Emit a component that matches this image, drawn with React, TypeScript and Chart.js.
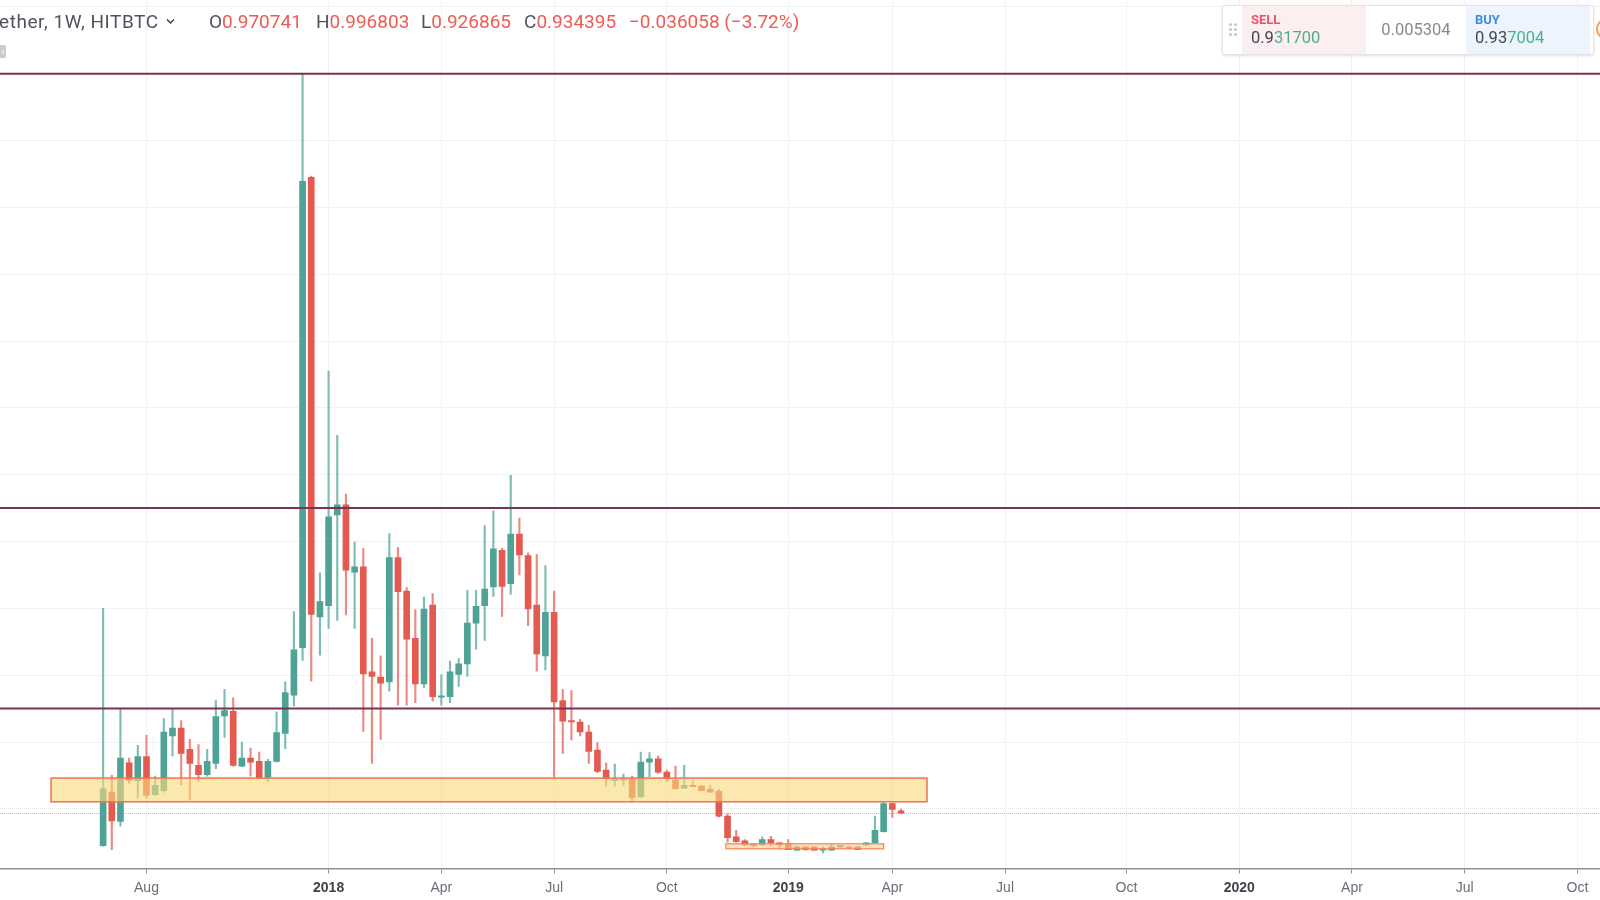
import React, { useEffect, useRef } from 'react';
import { Chart, registerables } from 'chart.js';

Chart.register(...registerables);

// week index: 0 = week of 2018-01-01
const WEEKS = [
  -26, -25, -24, -23, -22, -21, -20, -19, -18, -17, -16, -15, -14, -13, -12, -11, -10, -9, -8, -7, -6, -5, -4, -3, -2, -1,
  0, 1, 2, 3, 4, 5, 6, 7, 8, 9, 10, 11, 12, 13, 14, 15, 16, 17, 18, 19, 20, 21, 22, 23, 24, 25, 26, 27, 28, 29, 30,
  31, 32, 33, 34, 35, 36, 37, 38, 39, 40, 41, 42, 43, 44, 45, 46, 47, 48, 49, 50, 51, 52, 53, 54, 55, 56, 57, 58, 59,
  60, 61, 62, 63, 64, 65, 66,
];
const OPEN = [
  0.45, 1.25, 0.81, 1.69, 1.42, 1.78, 1.21, 1.27, 2.09, 2.21, 1.89, 1.65, 1.51, 1.68, 2.39, 2.46, 1.64, 1.76, 1.71, 1.47, 1.71, 2.13, 2.70, 3.41, 10.45, 3.87,
  4.04, 5.40, 5.55, 4.54, 4.62, 3.05, 2.97, 2.90, 4.76, 4.26, 3.55, 2.87, 4.05, 2.67, 2.68, 3.01, 3.17, 3.78, 4.04, 4.32, 4.87, 4.37, 5.11, 4.79, 4.05, 3.29, 3.94, 2.62, 2.32, 2.30, 2.15,
  1.88, 1.58, 1.42, 1.43, 1.45, 1.18, 1.70, 1.75, 1.55, 1.43, 1.31, 1.35, 1.34, 1.29, 1.26, 0.89, 0.58, 0.52, 0.46, 0.46, 0.54, 0.49, 0.48, 0.38, 0.43, 0.43, 0.38, 0.38, 0.43,
  0.43, 0.39, 0.46, 0.49, 0.66, 1.08, 0.970741,
];
const HIGH = [
  4.00, 1.50, 2.50, 1.76, 1.95, 2.10, 1.49, 2.35, 2.49, 2.32, 2.04, 1.96, 1.89, 2.62, 2.79, 2.66, 2.00, 1.91, 1.85, 1.74, 2.45, 2.90, 3.95, 12.0, 10.47, 4.53,
  7.55, 6.59, 5.71, 4.99, 4.90, 3.55, 3.29, 5.12, 4.91, 4.31, 3.98, 4.17, 4.22, 3.01, 3.21, 3.25, 4.27, 4.27, 5.24, 5.46, 4.90, 5.99, 5.35, 4.83, 4.81, 4.64, 4.26, 2.79, 2.77, 2.34, 2.25,
  1.99, 1.69, 1.67, 1.52, 1.49, 1.85, 1.84, 1.79, 1.58, 1.64, 1.65, 1.42, 1.35, 1.35, 1.29, 0.93, 0.68, 0.54, 0.48, 0.58, 0.59, 0.50, 0.54, 0.44, 0.44, 0.44, 0.43, 0.47, 0.45,
  0.44, 0.44, 0.50, 0.89, 1.11, 1.09, 0.996803,
];
const LOW = [
  0.44, 0.39, 0.74, 1.38, 1.16, 1.16, 1.20, 1.25, 1.79, 1.36, 1.13, 1.41, 1.49, 1.60, 2.07, 1.64, 1.63, 1.49, 1.45, 1.41, 1.70, 1.90, 2.54, 3.22, 2.91, 3.30,
  3.70, 3.82, 3.90, 3.70, 2.16, 1.68, 2.04, 2.76, 2.55, 2.55, 2.59, 2.81, 2.61, 2.55, 2.59, 2.83, 2.98, 3.39, 3.52, 4.18, 3.88, 4.21, 4.50, 3.74, 3.06, 3.08, 1.46, 1.83, 2.03, 2.09, 1.68,
  1.54, 1.34, 1.34, 1.35, 1.11, 1.17, 1.48, 1.53, 1.41, 1.30, 1.31, 1.33, 1.27, 1.25, 0.88, 0.50, 0.50, 0.45, 0.43, 0.45, 0.45, 0.40, 0.39, 0.38, 0.38, 0.38, 0.34, 0.38, 0.42,
  0.40, 0.39, 0.45, 0.49, 0.65, 0.87, 0.926865,
];
const CLOSE = [
  1.30, 0.82, 1.76, 1.43, 1.78, 1.20, 1.35, 2.15, 2.21, 1.83, 1.68, 1.51, 1.71, 2.38, 2.47, 1.65, 1.76, 1.70, 1.46, 1.71, 2.14, 2.74, 3.38, 10.39, 3.91, 4.10,
  5.37, 5.55, 4.57, 4.62, 3.02, 2.98, 2.88, 4.76, 4.25, 3.54, 2.87, 3.99, 2.68, 2.69, 3.05, 3.17, 3.78, 4.03, 4.29, 4.89, 4.33, 5.11, 4.80, 3.99, 3.32, 3.94, 2.60, 2.31, 2.30, 2.15, 1.86,
  1.56, 1.45, 1.45, 1.45, 1.17, 1.70, 1.75, 1.55, 1.45, 1.30, 1.35, 1.33, 1.27, 1.25, 0.89, 0.57, 0.51, 0.46, 0.45, 0.54, 0.49, 0.46, 0.39, 0.43, 0.39, 0.38, 0.40, 0.43, 0.44,
  0.41, 0.43, 0.49, 0.68, 1.08, 0.99, 0.934395,
];

const TICK_WEEKS = [-21, 0, 13, 26, 39, 53, 65, 78, 92, 105, 118, 131, 144];
const TICK_LABELS = ['Aug', '2018', 'Apr', 'Jul', 'Oct', '2019', 'Apr', 'Jul', 'Oct', '2020', 'Apr', 'Jul', 'Oct'];

const LEVELS = [12, 5.5, 2.5];
const ZONE_X = [-32, 69];
const ZONE_Y = [1.105, 1.46];
const BOX_X = [45.8, 64];
const BOX_Y = [0.402, 0.4765];
const LAST_PRICE = 0.934395;

const UP = '#4fa396';
const DOWN = '#e35b50';
const UP_WICK = '#7fbdb3';
const DOWN_WICK = '#ec8a82';

const isYear = (c: any) => /^\d{4}$/.test(String(c.tick && c.tick.label));

const overlayPlugin = {
  id: 'overlay',
  afterDatasetsDraw(chart: any) {
    const { ctx, chartArea } = chart;
    const x = chart.scales.x;
    const y = chart.scales.y;
    ctx.save();
    // zone
    const zx0 = x.getPixelForValue(ZONE_X[0]);
    const zx1 = x.getPixelForValue(ZONE_X[1]);
    const zy0 = y.getPixelForValue(ZONE_Y[1]);
    const zy1 = y.getPixelForValue(ZONE_Y[0]);
    ctx.fillStyle = 'rgba(249,218,125,0.62)';
    ctx.fillRect(zx0, zy0, zx1 - zx0, zy1 - zy0);
    ctx.strokeStyle = '#f4734f';
    ctx.lineWidth = 1.5;
    ctx.strokeRect(zx0, zy0, zx1 - zx0, zy1 - zy0);
    // small box
    const bx0 = x.getPixelForValue(BOX_X[0]);
    const bx1 = x.getPixelForValue(BOX_X[1]);
    const by0 = y.getPixelForValue(BOX_Y[1]);
    const by1 = y.getPixelForValue(BOX_Y[0]);
    ctx.fillStyle = 'rgba(250,205,140,0.6)';
    ctx.fillRect(bx0, by0, bx1 - bx0, by1 - by0);
    ctx.strokeStyle = '#f4864f';
    ctx.lineWidth = 1.2;
    ctx.strokeRect(bx0, by0, bx1 - bx0, by1 - by0);
    // last price line
    const lp = y.getPixelForValue(LAST_PRICE);
    ctx.strokeStyle = 'rgba(239,83,80,0.55)';
    ctx.lineWidth = 1;
    ctx.setLineDash([1, 1]);
    ctx.beginPath();
    ctx.moveTo(chartArea.left, Math.round(lp) + 0.5);
    ctx.lineTo(chartArea.right, Math.round(lp) + 0.5);
    ctx.stroke();
    ctx.setLineDash([]);
    // horizontal levels
    ctx.strokeStyle = '#7a3256';
    ctx.lineWidth = 2;
    LEVELS.forEach((lv) => {
      const py = y.getPixelForValue(lv);
      ctx.beginPath();
      ctx.moveTo(chartArea.left, py);
      ctx.lineTo(chartArea.right, py);
      ctx.stroke();
    });
    ctx.restore();
  },
};

function CandleChart() {
  const ref = useRef<HTMLCanvasElement | null>(null);
  useEffect(() => {
    if (!ref.current) return;
    const up = CLOSE.map((c, i) => c >= OPEN[i]);
    const chart = new Chart(ref.current, {
      type: 'bar',
      data: {
        datasets: [
          {
            label: 'body',
            data: WEEKS.map((w, i) => ({ x: w, y: [OPEN[i], CLOSE[i]] })) as any,
            backgroundColor: up.map((u) => (u ? UP : DOWN)),
            barThickness: 6,
            grouped: false,
            order: 0,
            minBarLength: 1.5,
            borderWidth: 0,
          } as any,
          {
            label: 'wick',
            data: WEEKS.map((w, i) => ({ x: w, y: [LOW[i], HIGH[i]] })) as any,
            backgroundColor: up.map((u) => (u ? UP_WICK : DOWN_WICK)),
            barThickness: 1.5,
            grouped: false,
            order: 1,
            borderWidth: 0,
          } as any,
        ],
      },
      options: {
        responsive: false,
        animation: false,
        layout: { padding: 0 },
        plugins: { legend: { display: false }, tooltip: { enabled: false } },
        scales: {
          x: {
            type: 'linear',
            min: -37.89,
            max: 146.6,
            offset: false,
            afterBuildTicks: (s: any) => {
              s.ticks = TICK_WEEKS.map((v) => ({ value: v }));
            },
            afterFit: (s: any) => {
              s.height = 31.5;
            },
            ticks: {
              autoSkip: false,
              maxRotation: 0,
              minRotation: 0,
              padding: 6,
              callback: (v: any) => {
                const i = TICK_WEEKS.indexOf(Number(v));
                return i >= 0 ? TICK_LABELS[i] : '';
              },
              color: (c: any) => (isYear(c) ? '#3f4249' : '#6a6d76'),
              font: (c: any) => ({
                family: "'Liberation Sans', Arial, sans-serif",
                size: 14,
                weight: isYear(c) ? 'bold' : 'normal',
              }),
            },
            grid: { color: '#eff2f6', tickColor: '#8f939b', tickLength: 5, lineWidth: 1, offset: false },
            border: { color: '#8e9199', width: 1.5 },
          },
          y: {
            type: 'linear',
            position: 'right',
            min: 0.107,
            max: 13.104,
            afterFit: (s: any) => {
              s.width = 0;
            },
            ticks: { display: false, stepSize: 1, includeBounds: false },
            grid: { color: '#eff2f6', drawTicks: false, lineWidth: 1, offset: false },
            border: { display: false },
          },
        },
      },
      plugins: [overlayPlugin],
    });
    return () => chart.destroy();
  }, []);
  return <canvas ref={ref} width={1600} height={900} style={{ display: 'block', position: 'absolute', left: 0, top: 0 }} />;
}

const txt: React.CSSProperties = { position: 'absolute', top: 11, fontFamily: 'Roboto', fontSize: 19, lineHeight: '21px', whiteSpace: 'nowrap' };
const RED = '#ef5b55';
const GRAY = '#50535e';

function Header() {
  return (
    <>
      <div style={{ ...txt, left: -1, color: GRAY, letterSpacing: 0.55 }}>ether, 1W, HITBTC</div>
      <svg style={{ position: 'absolute', left: 166, top: 18 }} width="9" height="7" viewBox="0 0 9 7">
        <path d="M1 1.5 L4.5 5 L8 1.5" stroke="#3c3f48" strokeWidth="1.5" fill="none" />
      </svg>
      <div style={{ ...txt, left: 209, color: GRAY }}>O<span style={{ color: RED }}>0.970741</span></div>
      <div style={{ ...txt, left: 316, color: GRAY }}>H<span style={{ color: RED }}>0.996803</span></div>
      <div style={{ ...txt, left: 421, color: GRAY }}>L<span style={{ color: RED }}>0.926865</span></div>
      <div style={{ ...txt, left: 524, color: GRAY }}>C<span style={{ color: RED }}>0.934395</span></div>
      <div style={{ ...txt, left: 629, color: RED }}>−0.036058 (−3.72%)</div>
      <div style={{ position: 'absolute', left: 0, top: 45, width: 6, height: 13, background: '#c9ccd2', borderRadius: '0 2px 2px 0', color: '#fff', fontFamily: 'Roboto', fontSize: 11, lineHeight: '13px', textAlign: 'center' }}>‹</div>
    </>
  );
}

function TradePanel() {
  const price: React.CSSProperties = { position: 'absolute', top: 22, left: 9, fontFamily: 'Roboto', fontSize: 16.5, color: '#434651', whiteSpace: 'nowrap' };
  const label: React.CSSProperties = { position: 'absolute', top: 6, left: 9, fontFamily: 'Roboto', fontSize: 13, fontWeight: 'bold' };
  const dots = [] as React.ReactNode[];
  [0, 1].forEach((c) =>
    [0, 1, 2].forEach((r) =>
      dots.push(
        <div key={`${c}-${r}`} style={{ position: 'absolute', left: 6 + c * 5, top: 17 + r * 5, width: 2.5, height: 2.5, borderRadius: 2, background: '#c3c6cc' }} />
      )
    )
  );
  return (
    <>
      <div style={{ position: 'absolute', left: 1222, top: 5, width: 370, height: 48, background: '#fff', border: '1px solid #e0e3eb', borderRadius: 3, boxShadow: '0 1px 3px rgba(0,0,0,0.12)', overflow: 'hidden' }}>
        {dots}
        <div style={{ position: 'absolute', left: 19, top: 0, width: 124, height: 48, background: '#fdeef0' }}>
          <div style={{ ...label, color: '#f0506e' }}>SELL</div>
          <div style={price}>0.9<span style={{ color: '#4caf8c' }}>31700</span></div>
        </div>
        <div style={{ position: 'absolute', left: 143, top: 0, width: 100, height: 48, textAlign: 'center', lineHeight: '48px', fontFamily: 'Roboto', fontSize: 16.5, color: '#878a93' }}>0.005304</div>
        <div style={{ position: 'absolute', left: 243, top: 0, width: 124, height: 48, background: '#eef4fd' }}>
          <div style={{ ...label, color: '#3e8ee0' }}>BUY</div>
          <div style={price}>0.93<span style={{ color: '#4caf8c' }}>7004</span></div>
        </div>
      </div>
      <div style={{ position: 'absolute', left: 1596, top: 18, width: 22, height: 22, borderRadius: 11, border: '2px solid #f7a35c', boxSizing: 'border-box' }} />
    </>
  );
}

export default function App() {
  return (
    <div style={{ position: 'fixed', left: 0, top: 0, width: 1600, height: 900, overflow: 'hidden', background: '#fff' }}>
      <CandleChart />
      <Header />
      <TradePanel />
    </div>
  );
}
